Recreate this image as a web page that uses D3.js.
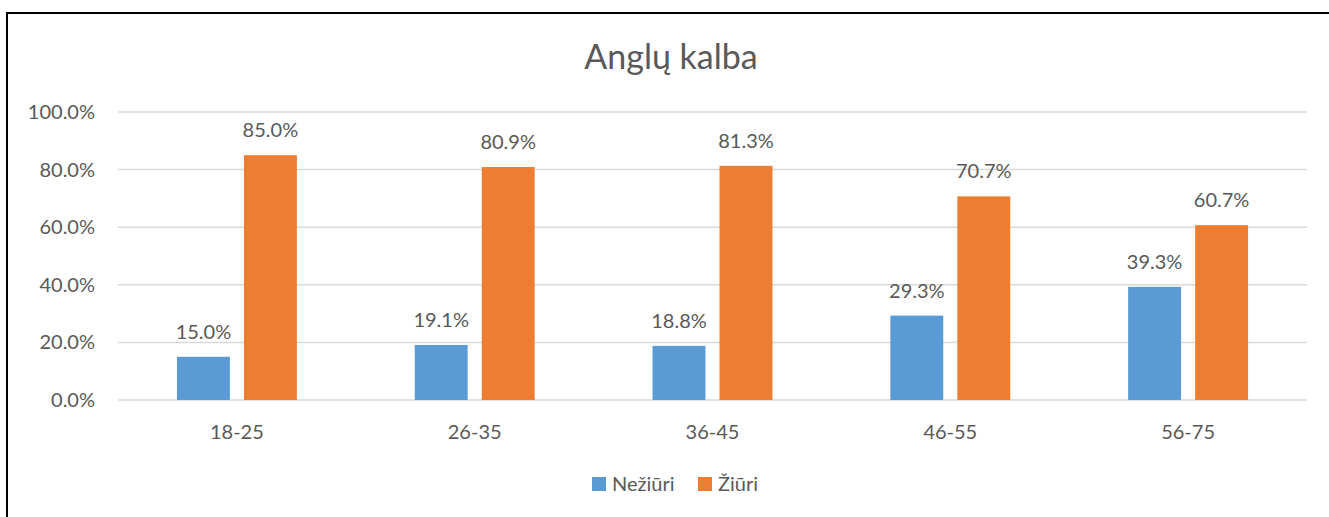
<!DOCTYPE html>
<html lang="lt">
<head>
<meta charset="UTF-8">
<title>Anglų kalba</title>
<script src="https://d3js.org/d3.v7.min.js"></script>
<style>
  body { margin: 0; background: #fff; }
  text { font-family: Lato, "Noto Sans", sans-serif; fill: #595959; }
</style>
</head>
<body>
<svg id="chart"></svg>
<script>
// duomenys
var categories = ["18-25", "26-35", "36-45", "46-55", "56-75"];
var seriesNames = ["Nežiūri", "Žiūri"];
var nežiūri = [15.0, 19.1, 18.8, 29.3, 39.3];
var žiūri = [85.0, 80.9, 81.3, 70.7, 60.7];
var yTicks = [0, 20, 40, 60, 80, 100];
var colors = ["#5B9BD5", "#ED7D31"];

var width = 1329, height = 517;
var margin = {left: 118, right: 22, top: 112, bottom: 117};

var svg = d3.select("#chart").attr("width", width).attr("height", height);

// rėmelis (dešinė ir apačia už lango ribų)
svg.append("rect")
    .attr("x", 7).attr("y", 13)
    .attr("width", 1340).attr("height", 520)
    .attr("fill", "none").attr("stroke", "#000").attr("stroke-width", 2);

var x0 = d3.scaleBand().domain(categories)
    .range([margin.left, width - margin.right]);
var x1 = d3.scaleBand().domain(seriesNames)
    .range([0, x0.bandwidth()])
    .paddingInner(0.21).paddingOuter(0.88);
var y = d3.scaleLinear().domain([0, 100])
    .range([height - margin.bottom, margin.top]);

// tinklelis
svg.append("g").selectAll("line").data(yTicks).enter().append("line")
    .attr("x1", margin.left).attr("x2", width - margin.right)
    .attr("y1", function(d) { return y(d); })
    .attr("y2", function(d) { return y(d); })
    .attr("stroke", "#D9D9D9").attr("stroke-width", 1.5);

// y ašies žymės
svg.append("g").selectAll("text").data(yTicks).enter().append("text")
    .attr("x", 95)
    .attr("y", function(d) { return y(d) + 7; })
    .attr("text-anchor", "end")
    .style("font-size", "20px")
    .text(function(d) { return d.toFixed(1) + "%"; });

var data = categories.map(function(c, i) {
    return {cat: c, values: [nežiūri[i], žiūri[i]]};
});

var groups = svg.append("g").selectAll("g").data(data).enter().append("g")
    .attr("transform", function(d) { return "translate(" + x0(d.cat) + ",0)"; });

groups.selectAll("rect")
    .data(function(d) { return d.values.map(function(v, j) { return {s: seriesNames[j], v: v, j: j}; }); })
    .enter().append("rect")
    .attr("x", function(d) { return x1(d.s); })
    .attr("y", function(d) { return y(d.v); })
    .attr("width", x1.bandwidth())
    .attr("height", function(d) { return y(0) - y(d.v); })
    .attr("fill", function(d) { return colors[d.j]; });

groups.selectAll("text.lbl")
    .data(function(d) { return d.values.map(function(v, j) { return {s: seriesNames[j], v: v}; }); })
    .enter().append("text")
    .attr("class", "lbl")
    .attr("x", function(d) { return x1(d.s) + x1.bandwidth() / 2; })
    .attr("y", function(d) { return y(d.v) - 18; })
    .attr("text-anchor", "middle")
    .style("font-size", "20px")
    .text(function(d) { return d.v.toFixed(1) + "%"; });

// x ašies žymės
svg.append("g").selectAll("text").data(categories).enter().append("text")
    .attr("x", function(d) { return x0(d) + x0.bandwidth() / 2; })
    .attr("y", 439)
    .attr("text-anchor", "middle")
    .style("font-size", "20px")
    .text(function(d) { return d; });

// pavadinimas
svg.append("text")
    .attr("x", 671).attr("y", 69)
    .attr("text-anchor", "middle")
    .style("font-size", "34px")
    .text("Anglų kalba");

// legenda
var legend = svg.append("g");
var legendX = [592, 698];
seriesNames.forEach(function(s, i) {
    legend.append("rect")
        .attr("x", legendX[i]).attr("y", 477)
        .attr("width", 14).attr("height", 14)
        .attr("fill", colors[i]);
    legend.append("text")
        .attr("x", legendX[i] + 20).attr("y", 491)
        .style("font-size", "20px")
        .text(s);
});
</script>
</body>
</html>
